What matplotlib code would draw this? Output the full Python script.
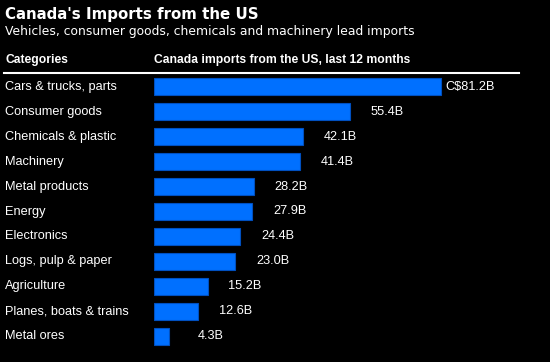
import matplotlib.pyplot as plt

categories = ['Cars & trucks, parts', 'Consumer goods', 'Chemicals & plastic', 'Machinery',
              'Metal products', 'Energy', 'Electronics', 'Logs, pulp & paper', 'Agriculture',
              'Planes, boats & trains', 'Metal ores']
values = [81.2, 55.4, 42.1, 41.4, 28.2, 27.9, 24.4, 23.0, 15.2, 12.6, 4.3]
labels = ['C$81.2B', '55.4B', '42.1B', '41.4B', '28.2B', '27.9B', '24.4B', '23.0B', '15.2B', '12.6B', '4.3B']

W, H = 550, 362
fig = plt.figure(figsize=(W / 100, H / 100), dpi=100, facecolor='black')


def fx(px):
    return px / W


def fy(py):
    return 1 - py / H


# axes placed in pixel terms
ax = fig.add_axes([fx(154), fy(348.5), fx(507 - 154), (348.5 - 74.5) / H])
ax.set_facecolor('black')
ypos = list(range(len(categories)))
ax.barh(ypos, values, height=0.68, color='#0070ff', edgecolor='#0050c0', linewidth=0.8)
ax.set_xlim(0, 100)
ax.set_ylim(len(categories) - 0.5, -0.5)
ax.axis('off')

# value labels, right aligned a fixed distance past the bar end
for y, v, lab in zip(ypos, values, labels):
    ax.annotate(lab, (v, y), xytext=(54, 0), textcoords='offset pixels',
                ha='right', va='center', color='white', fontsize=9.2,
                family='Liberation Sans')

# category labels
for y, cat in zip(ypos, categories):
    ax.annotate(cat, (0, y), xycoords=('figure fraction', 'data'), xytext=(5, 0),
                textcoords='offset pixels', ha='left', va='center', color='white',
                fontsize=9.2, family='Liberation Sans')

fig.text(fx(5), fy(14), "Canada's Imports from the US", color='white', fontsize=10.8,
         fontweight='bold', family='DejaVu Sans', va='center', ha='left')
fig.text(fx(5), fy(32), 'Vehicles, consumer goods, chemicals and machinery lead imports',
         color='white', fontsize=8.9, family='DejaVu Sans', va='center', ha='left')
fig.text(fx(5), fy(60), 'Categories', color='white', fontsize=8.7, fontweight='bold',
         family='Liberation Sans', va='center', ha='left')
fig.text(fx(154), fy(60), 'Canada imports from the US, last 12 months', color='white',
         fontsize=8.7, fontweight='bold', family='Liberation Sans', va='center', ha='left')
fig.add_artist(plt.Line2D([fx(4), fx(519)], [fy(73), fy(73)], color='white', linewidth=1.5))

fig.savefig('out.png', dpi=100, facecolor='black')
